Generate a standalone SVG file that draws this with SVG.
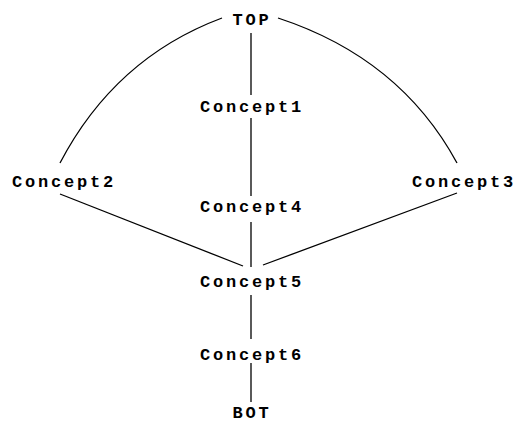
<svg xmlns="http://www.w3.org/2000/svg" width="516" height="423" viewBox="0 0 516 423">
<style>
text{font-family:"Liberation Mono","DejaVu Sans Mono",monospace;font-weight:bold;font-size:17px;letter-spacing:2.8px;text-anchor:middle;fill:#000}
.e{fill:none;stroke:#000;stroke-width:1.3}
</style>
<rect width="516" height="423" fill="#fff"/>
<g id="connectors">
<path class="e" d="M251,33 V95"/>
<path class="e" d="M251,118 V196"/>
<path class="e" d="M251,222 V267"/>
<path class="e" d="M251,295 V339"/>
<path class="e" d="M251,363 V402"/>
<path class="e" d="M222,18 Q115,58 60,163"/>
<path class="e" d="M278,18 Q400,58 457,163"/>
<path class="e" d="M60,194 L243,266"/>
<path class="e" d="M457,193 L263,265"/>
</g>
<g id="TOP"><text x="252" y="25">TOP</text></g>
<g id="Concept1"><text x="252" y="112">Concept1</text></g>
<g id="Concept2"><text x="64" y="187">Concept2</text></g>
<g id="Concept3"><text x="464" y="187">Concept3</text></g>
<g id="Concept4"><text x="252" y="212">Concept4</text></g>
<g id="Concept5"><text x="252" y="287">Concept5</text></g>
<g id="Concept6"><text x="252" y="360">Concept6</text></g>
<g id="BOT"><text x="252" y="418">BOT</text></g>
</svg>
